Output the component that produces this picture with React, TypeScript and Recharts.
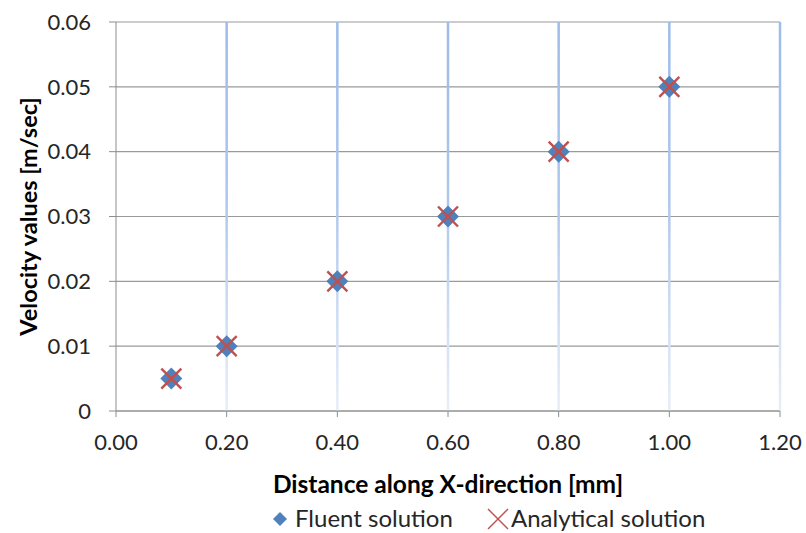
import React from 'react';
import {
  ScatterChart, Scatter, XAxis, YAxis, CartesianGrid, ReferenceLine, Legend,
} from 'recharts';

const xTicks = [0, 0.2, 0.4, 0.6, 0.8, 1.0, 1.2];
const yTicks = [0, 0.01, 0.02, 0.03, 0.04, 0.05, 0.06];
const gridX = [0.2, 0.4, 0.6, 0.8, 1.0, 1.2];

const fluentX = [0.1, 0.2, 0.4, 0.6, 0.8, 1.0];
const fluentY = [0.005, 0.01, 0.02, 0.03, 0.04, 0.05];
const analyticalX = [0.1, 0.2, 0.4, 0.6, 0.8, 1.0];
const analyticalY = [0.005, 0.01, 0.02, 0.03, 0.04, 0.05];

const fluentData = fluentX.map((x, i) => ({ x, y: fluentY[i] }));
const analyticalData = analyticalX.map((x, i) => ({ x, y: analyticalY[i] }));

const FONT = 'Lato, "Open Sans", sans-serif';
const BLUE = '#4F81BD';
const RED = '#C0504D';
const AXIS = '#8C8C8C';

const Diamond = (props: any) => {
  const { cx, cy } = props;
  const r = 11;
  return <polygon points={`${cx},${cy - r} ${cx + r},${cy} ${cx},${cy + r} ${cx - r},${cy}`} fill={BLUE} />;
};

const Cross = (props: any) => {
  const { cx, cy } = props;
  const r = 10;
  return (
    <g stroke={RED} strokeWidth={2.4}>
      <line x1={cx - r} y1={cy - r} x2={cx + r} y2={cy + r} />
      <line x1={cx - r} y1={cy + r} x2={cx + r} y2={cy - r} />
    </g>
  );
};

const LegendContent = () => (
  <svg width={806} height={32} style={{ display: 'block' }}>
    <polygon points="280,11 287,18 280,25 273,18" fill={BLUE} />
    <text x={295} y={26} fontFamily={FONT} fontSize={24} fill="#262626">Fluent solution</text>
    <g stroke={RED} strokeWidth={1.5}>
      <line x1={488} y1={8} x2={508} y2={28} />
      <line x1={488} y1={28} x2={508} y2={8} />
    </g>
    <text x={511} y={26} fontFamily={FONT} fontSize={24} fill="#262626">Analytical solution</text>
  </svg>
);

const XTitle = (props: any) => {
  const { viewBox } = props;
  return (
    <text x={viewBox.x + viewBox.width / 2} y={viewBox.y + 82} textAnchor="middle"
      fontFamily={FONT} fontWeight="bold" fontSize={24.5} fill="#000">
      Distance along X-direction [mm]
    </text>
  );
};

const YTitle = (props: any) => {
  const { viewBox } = props;
  const cx = viewBox.x + 28;
  const cy = viewBox.y + viewBox.height / 2;
  return (
    <text x={cx} y={cy} textAnchor="middle" dominantBaseline="central"
      transform={`rotate(-90 ${cx} ${cy})`}
      fontFamily={FONT} fontWeight="bold" fontSize={23.5} fill="#000">
      Velocity values [m/sec]
    </text>
  );
};

export default function App() {
  return (
    <div style={{ position: 'absolute', left: 0, top: 0, width: 806, height: 533, background: '#fff' }}>
      <ScatterChart width={806} height={533} margin={{ top: 22, right: 26, left: 0, bottom: 0 }}>
        <defs>
          <linearGradient id="vgrad" x1="0" y1="22" x2="0" y2="411" gradientUnits="userSpaceOnUse">
            <stop offset="0%" stopColor="#9DBCEA" />
            <stop offset="45%" stopColor="#ADC6EC" />
            <stop offset="100%" stopColor="#E8EEF8" />
          </linearGradient>
        </defs>
        <CartesianGrid vertical={false} stroke="#9A9A9A" strokeWidth={1.2} />
        {gridX.map((v) => (
          <ReferenceLine key={v} x={v} stroke="url(#vgrad)" strokeWidth={2.5} ifOverflow="visible" />
        ))}
        <XAxis
          type="number" dataKey="x" domain={[0, 1.2]} ticks={xTicks} height={90}
          tickFormatter={(v: number) => v.toFixed(2)}
          stroke={AXIS} tickSize={6} tickMargin={17}
          tick={{ fontFamily: FONT, fontSize: 22, fill: '#262626' }}
          label={<XTitle />}
          allowDataOverflow
        />
        <YAxis
          type="number" dataKey="y" domain={[0, 0.06]} ticks={yTicks} width={116}
          tickFormatter={(v: number) => (v === 0 ? '0' : v.toFixed(2))}
          stroke={AXIS} tickSize={7} tickMargin={18}
          tick={{ fontFamily: FONT, fontSize: 22, fill: '#262626' }}
          label={<YTitle />}
          allowDataOverflow
        />
        <Legend verticalAlign="bottom" height={32} content={<LegendContent />} wrapperStyle={{ left: 0, width: 806 }} />
        <Scatter name="Fluent solution" data={fluentData} shape={<Diamond />} isAnimationActive={false} />
        <Scatter name="Analytical solution" data={analyticalData} shape={<Cross />} isAnimationActive={false} />
      </ScatterChart>
    </div>
  );
}
